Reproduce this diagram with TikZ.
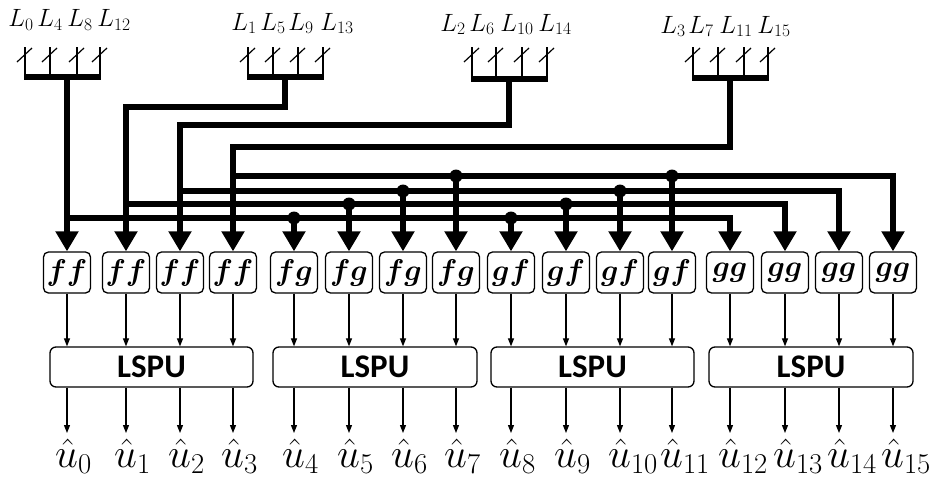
\RequirePackage{fix-cm}
\documentclass[tikz,border=0pt]{standalone}
\usepackage{fontspec}
\newfontfamily\lspufont{Carlito}
\usetikzlibrary{arrows.meta}
\begin{document}
\begin{tikzpicture}[x=1pt,y=-1pt,
  bus/.style={line width=6.5pt},
  busarrow/.style={line width=6.5pt,-{Triangle[length=20pt,width=22pt]}},
  thinarrow/.style={line width=1.2pt,-{Triangle[length=8pt,width=6pt]}},
  thinline/.style={line width=1.2pt},
  fbox/.style={draw,line width=1.3pt,rounded corners=5pt,minimum width=47pt,minimum height=41pt,inner sep=0pt,font=\fontsize{30}{32}\selectfont\boldmath},
  lspu/.style={draw,line width=1.3pt,rounded corners=6pt,minimum height=40pt,inner sep=0pt,font=\lspufont\bfseries\fontsize{33}{35}\selectfont},
  ulabel/.style={anchor=base west,inner sep=0pt,font=\fontsize{41}{43}\selectfont},
  llabel/.style={anchor=base,inner sep=0pt,font=\fontsize{25}{27}\selectfont}
]
\useasboundingbox (0,0) rectangle (941,479);

% processing boxes
\foreach \x/\t [count=\i from 0] in {67/ff,126/ff,180/ff,233/ff,294/fg,349/fg,403/fg,456/fg,511/gf,566/gf,620/gf,672/gf,730/gg,785/gg,839/gg,893/gg}
  \node[fbox] (b\i) at (\x,272.5) {$\t$};

% LSPU units
\node[lspu,minimum width=203pt] (p0) at (151.5,367) {LSPU};
\node[lspu,minimum width=204pt] (p1) at (375,367) {LSPU};
\node[lspu,minimum width=203pt] (p2) at (592.5,367) {LSPU};
\node[lspu,minimum width=204pt] (p3) at (811,367) {LSPU};

% output labels and arrow ends
\foreach \x [count=\i from 0] in {67,126,180,233,294,349,403,456,511,566,620,672,730,785,839,893} {
  \node[ulabel] (u\i) at (\x-12,467) {$\hat{u}_{\i}$};
  \coordinate (t\i) at (\x,433);
}

% thin arrows
\foreach \i in {0,...,15} {
  \pgfmathtruncatemacro\g{\i/4}
  \draw[thinarrow] (b\i.south) -- (b\i.south |- p\g.north);
  \draw[thinarrow] (b\i.south |- p\g.south) -- (t\i);
}

% input labels
\foreach \x/\n/\y [count=\k] in {21/0/27,50/4/27,80/8/27,114/12/27,
  244/1/30,273/5/30,301/9/30,337/13/30,
  453/2/31,482/6/31,517/10/31,555/14/31,
  673/3/33,701/7/33,736/11/33,774/15/33}
  \node[llabel] (l\k) at (\x,\y) {$L_{\n}$};

% input bundles
\foreach \a/\b/\c/\d/\y in {25/50/77/100/77,248/273/298/323/77,472/496/522/547/79,693/718/744/768/78} {
  \foreach \x in {\a,\b,\c,\d} {
    \draw[thinline] (\x,47) -- (\x,\y);
    \draw[thinline] (\x-8,62) -- (\x+7,48);
  }
  \draw[bus] (\a-1,\y) -- (\d+1,\y);
}

\coordinate (bar0) at (67,77);
\coordinate (bar1) at (285,77);
\coordinate (bar2) at (509,79);
\coordinate (bar3) at (730,78);
\coordinate (lvl1) at (0,107);
\coordinate (lvl2) at (0,125);
\coordinate (lvl3) at (0,147);
\coordinate (bus0) at (0,218);
\coordinate (bus1) at (0,204);
\coordinate (bus2) at (0,191);
\coordinate (bus3) at (0,176);

\draw[busarrow] (bar0) -- (b0.north);
\draw[busarrow] (bar1) |- (b1.north |- lvl1) -- (b1.north);
\draw[busarrow] (bar2) |- (b2.north |- lvl2) -- (b2.north);
\draw[busarrow] (bar3) |- (b3.north |- lvl3) -- (b3.north);
\draw[busarrow] (b0.north |- bus0) -| (b12.north);
\draw[busarrow] (b1.north |- bus1) -| (b13.north);
\draw[busarrow] (b2.north |- bus2) -| (b14.north);
\draw[busarrow] (b3.north |- bus3) -| (b15.north);

\foreach \s/\k in {4/0,8/0,5/1,9/1,6/2,10/2,7/3,11/3} {
  \fill (b\s.north |- bus\k) circle (6.5pt);
  \draw[busarrow] (b\s.north |- bus\k) -- (b\s.north);
}
\end{tikzpicture}
\end{document}
